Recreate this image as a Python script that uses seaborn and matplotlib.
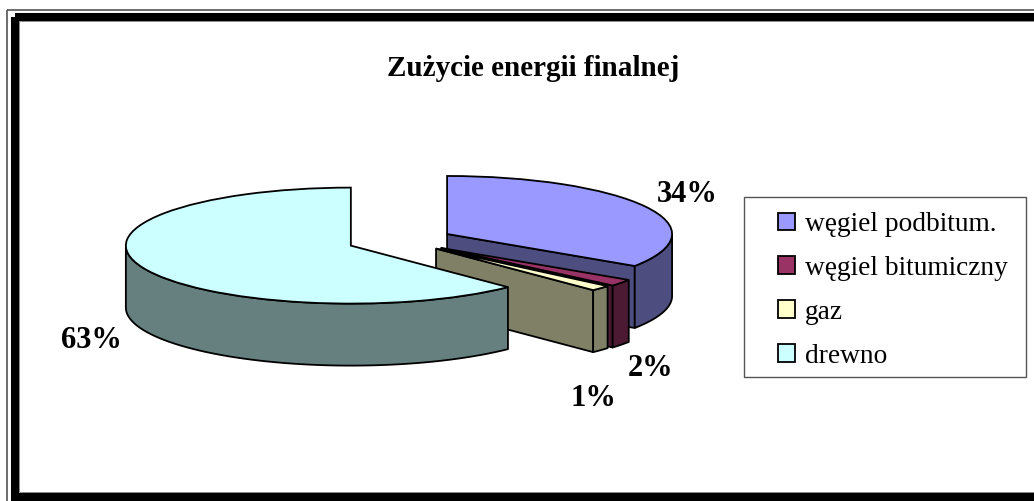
import numpy as np
import matplotlib
matplotlib.use('Agg')
import matplotlib.pyplot as plt
import matplotlib.colors as mcolors
from matplotlib.patches import Polygon, Rectangle
import seaborn as sns

categories = ['węgiel podbitum.', 'węgiel bitumiczny', 'gaz', 'drewno']
shares = [34.3, 1.9, 1.5, 62.3]
percent_labels = ['34%', '2%', '1%', '63%']
title_text = 'Zużycie energii finalnej'

slice_colors = ['#9999FF', '#993366', '#FFFFCC', '#CCFFFF']
slice_explode = [0.23, 0.22, 0.21, 0.243]
label_spots = [(687, 194), (651, 369), (593, 399), (91, 340)]

W, H = 1034, 501
RX, RY = 225.0, 58.0     # pie radius in pixels, squashed for the 3d look
CX, CY = 401.5, 240.3    # pie centre before exploding
DEPTH = 62.0 / RY        # wall height in pie units

sns.set_theme(style='white')
plt.rcParams['font.family'] = ['Liberation Serif', 'DejaVu Serif']

fig = plt.figure(figsize=(W / 100, H / 100), dpi=100, facecolor='white')

# pie axes: one data unit = one radius, so the circle turns into an ellipse
ax = fig.add_axes([0, 0, 1, 1])
wedges, _ = ax.pie(shares, colors=slice_colors, startangle=90, counterclock=False,
                   explode=slice_explode,
                   wedgeprops={'edgecolor': 'black', 'linewidth': 1.3})
ax.set_aspect('auto')
ax.set_xlim(-CX / RX, (W - CX) / RX)
ax.set_ylim(-(H - CY) / RY, CY / RY)
ax.axis('off')


def rim_points(wedge, a1, a2):
    t = np.radians(np.linspace(a1, a2, 60))
    return np.column_stack([wedge.center[0] + wedge.r * np.cos(t),
                            wedge.center[1] + wedge.r * np.sin(t)])


def draw_walls(wedge, color, z):
    side = np.array(mcolors.to_rgb(color)) * 0.5
    style = dict(facecolor=side, edgecolor='black', linewidth=1.3, zorder=z, joinstyle='round')
    a1, a2 = wedge.theta1 % 360, wedge.theta2 % 360
    if a2 <= a1:
        a2 += 360

    # cut face on the clockwise end, faces the viewer for these slices
    if 270 < a1 < 360:
        p = rim_points(wedge, a1, a1)[0]
        c = np.array(wedge.center)
        ax.add_patch(Polygon([c, p, p - [0, DEPTH], c - [0, DEPTH]], **style))

    # outer rim, only the front half shows
    lo, hi = max(a1, 180), min(a2, 360)
    if hi > lo:
        top = rim_points(wedge, lo, hi)
        bottom = top[::-1] - [0, DEPTH]
        ax.add_patch(Polygon(np.vstack([top, bottom]), **style))


# back to front: purple first, drewno last
for i, (w, col) in enumerate(zip(wedges, slice_colors)):
    z = 2 + i * 2
    draw_walls(w, col, z)
    w.set_zorder(z + 1)

# everything else is placed in pixels
px = fig.add_axes([0, 0, 1, 1], facecolor='none')
px.set_xlim(0, W)
px.set_ylim(H, 0)
px.axis('off')

px.text(533.5, 76, title_text, fontsize=21, fontweight='bold', color='black',
        ha='center', va='baseline')

for (x, y), lab in zip(label_spots, percent_labels):
    px.text(x, y, lab, fontsize=22, fontweight='bold', color='black',
            ha='center', va='center')

px.add_patch(Rectangle((744, 197), 282, 180, facecolor='white', edgecolor='#555555', linewidth=1.0))
leg = px.legend(wedges, categories, loc='upper left', bbox_to_anchor=(778, 212),
                bbox_transform=px.transData, borderaxespad=0, fontsize=19.7,
                frameon=False, handlelength=0.61, handleheight=0.61, handletextpad=0.36,
                labelspacing=0.69, borderpad=0)
for t in leg.get_texts():
    t.set_color('black')

# double border, left, top and bottom only, it runs off the right edge
px.add_patch(Rectangle((7, 9.5), W + 20, H + 20, fill=False, edgecolor='#555555', linewidth=1.2))
px.add_patch(Rectangle((14.5, 17), W + 20, 479.5, fill=False, edgecolor='black', linewidth=5.8))
px.add_patch(Rectangle((19.2, 21.4), W + 20, 470.2, fill=False, edgecolor='#888888', linewidth=0.7))

fig.savefig('out.png', dpi=100)
